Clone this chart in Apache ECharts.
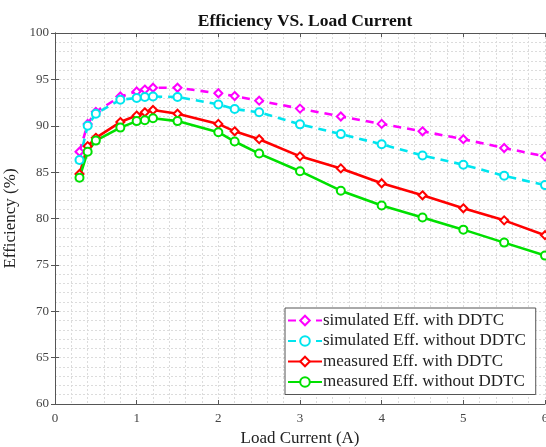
<!DOCTYPE html>
<html>
<head>
<meta charset="utf-8">
<script src="https://cdn.jsdelivr.net/npm/echarts@6/dist/echarts.min.js"></script>
<style>
  html, body { margin: 0; padding: 0; background: #fff; }
  #main { width: 546px; height: 447px; }
</style>
</head>
<body>
<div id="main"></div>
<script>
// load current (A)
var loadCurrent = [0.3, 0.4, 0.5, 0.8, 1.0, 1.1, 1.2, 1.5, 2.0, 2.2, 2.5, 3.0, 3.5, 4.0, 4.5, 5.0, 5.5, 6.0]
// efficiency (%)
var simWith = [87.2, 90.2, 91.5, 93.15, 93.7, 93.9, 94.1, 94.1, 93.5, 93.2, 92.7, 91.85, 91.0, 90.2, 89.4, 88.55, 87.6, 86.7]
var simWithout = [86.3, 90.0, 91.3, 92.8, 93.0, 93.1, 93.15, 93.1, 92.3, 91.8, 91.45, 90.15, 89.1, 88.0, 86.8, 85.8, 84.6, 83.6]
var measWith = [84.8, 87.8, 88.7, 90.4, 91.1, 91.45, 91.7, 91.3, 90.2, 89.4, 88.55, 86.7, 85.4, 83.8, 82.5, 81.1, 79.8, 78.2]
var measWithout = [84.4, 87.2, 88.4, 89.8, 90.5, 90.6, 90.8, 90.5, 89.3, 88.3, 87.0, 85.1, 83.0, 81.4, 80.1, 78.8, 77.4, 76.0]
var names = ['simulated Eff. with DDTC', 'simulated Eff. without DDTC', 'measured Eff. with DDTC', 'measured Eff. without DDTC']

var serif = 'Liberation Serif'

function pairs (ys) {
    return loadCurrent.map(function (x, i) { return [x, ys[i]] })
}

function mkSeries (name, ys, color, dashed, symbol) {
    return {
        name: name,
        type: 'line',
        data: pairs(ys),
        symbol: symbol,
        symbolSize: 8,
        showAllSymbol: true,
        color: color,
        lineStyle: { color: color, width: 2.6, type: dashed ? [8, 6] : 'solid' },
        itemStyle: { color: '#fff', borderColor: color, borderWidth: 2 },
        z: 3
    }
}

var gridLine = { show: true, lineStyle: { color: '#dcdcdc', type: [2, 2], width: 1 } }
var axisLineStyle = { show: true, lineStyle: { color: '#555', width: 1 } }
var tickStyle = { show: true, inside: true, length: 4, lineStyle: { color: '#555' } }

var chart = echarts.init(document.getElementById('main'))
var option = {
    animation: false,
    backgroundColor: '#fff',
    title: {
        text: 'Efficiency VS. Load Current',
        left: 300,
        top: 7,
        textAlign: 'center',
        textStyle: { fontFamily: serif, fontWeight: 'bold', fontSize: 17.5, color: '#111' }
    },
    grid: { left: 55, top: 33, width: 490, height: 371, outerBoundsMode: 'none', containLabel: false },
    legend: {
        orient: 'vertical',
        left: 285,
        top: 308,
        width: 252,
        padding: [4, 10, 4, 2],
        itemGap: 3.5,
        itemWidth: 34,
        itemHeight: 12,
        backgroundColor: '#fff',
        borderColor: '#555',
        borderWidth: 1,
        borderRadius: 0,
        textStyle: { fontFamily: serif, fontSize: 17, color: '#222', padding: [0, 0, 0, -4] },
        data: names
    },
    xAxis: [{
        type: 'value',
        min: 0,
        max: 6,
        interval: 1,
        name: 'Load Current (A)',
        nameLocation: 'middle',
        nameGap: 26,
        nameTextStyle: { fontFamily: serif, fontSize: 17, color: '#222' },
        axisLine: axisLineStyle,
        axisTick: tickStyle,
        axisLabel: { fontFamily: serif, fontSize: 13, color: '#444', margin: 8 },
        splitLine: gridLine,
        minorTick: { show: false, splitNumber: 5 },
        minorSplitLine: gridLine
    }, {
        type: 'value',
        position: 'top',
        min: 0,
        max: 6,
        interval: 1,
        axisLine: axisLineStyle,
        axisTick: tickStyle,
        axisLabel: { show: false },
        splitLine: { show: false }
    }],
    yAxis: [{
        type: 'value',
        min: 60,
        max: 100,
        interval: 5,
        name: 'Efficiency (%)',
        nameLocation: 'middle',
        nameGap: 32,
        nameTextStyle: { fontFamily: serif, fontSize: 17, color: '#222' },
        axisLine: axisLineStyle,
        axisTick: tickStyle,
        axisLabel: { fontFamily: serif, fontSize: 13, color: '#444', margin: 6 },
        splitLine: gridLine,
        minorTick: { show: false, splitNumber: 5 },
        minorSplitLine: gridLine
    }, {
        type: 'value',
        position: 'right',
        min: 60,
        max: 100,
        interval: 5,
        axisLine: axisLineStyle,
        axisTick: tickStyle,
        axisLabel: { show: false },
        splitLine: { show: false }
    }],
    series: [
        mkSeries(names[0], simWith, '#ff00ff', true, 'diamond'),
        mkSeries(names[1], simWithout, '#00e5ee', true, 'circle'),
        mkSeries(names[2], measWith, '#ff0000', false, 'diamond'),
        mkSeries(names[3], measWithout, '#00e000', false, 'circle')
    ]
}
chart.setOption(option)
</script>
</body>
</html>
